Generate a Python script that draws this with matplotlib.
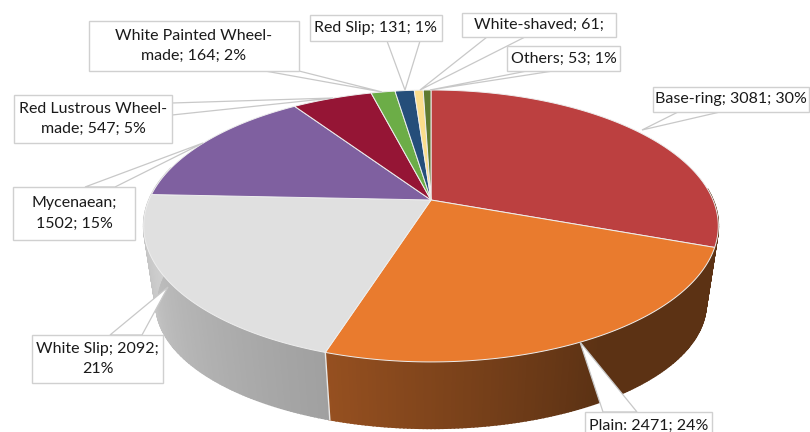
import numpy as np
import matplotlib
matplotlib.use('Agg')
import matplotlib.pyplot as plt
from matplotlib.patches import Polygon, Rectangle

plt.rcParams['font.family'] = ['Lato', 'DejaVu Sans']

# data
names = ['Base-ring', 'Plain', 'White Slip', 'Mycenaean', 'Red Lustrous Wheel-made',
         'White Painted Wheel-made', 'Red Slip', 'White-shaved', 'Others']
values = [3081, 2471, 2092, 1502, 547, 164, 131, 61, 53]
colors = ['#BC4040', '#E97B2E', '#E0E0E0', '#7F60A0', '#951535',
          '#6CAD47', '#254E7A', '#FBDD8C', '#5F7A30']

label_texts = ['Base-ring; 3081; 30%', 'Plain: 2471; 24%', 'White Slip; 2092;\n21%',
               'Mycenaean;\n1502; 15%', 'Red Lustrous Wheel-\nmade; 547; 5%',
               'White Painted Wheel-\nmade; 164; 2%', 'Red Slip; 131; 1%',
               'White-shaved; 61;', 'Others; 53; 1%']
# label box x0, y0, x1, y1 in pixels
label_boxes = [(653, 87, 809, 112), (585, 412, 712, 440), (32, 335, 163, 383),
               (13, 187, 135, 240), (14, 95, 172, 143), (89, 21, 299, 71),
               (310, 15, 442, 41), (462, 13, 616, 37), (507, 46, 620, 71)]
# leader: two points on the box edge, one on the pie
leaders = [((678, 112), (720, 112), (642, 130)), ((603, 412), (637, 412), (580, 342)),
           ((110, 335), (142, 335), (168, 287)), ((85, 187), (115, 187), (203, 143)),
           ((172, 103), (172, 115), (333, 98)), ((265, 71), (299, 71), (382, 92)),
           ((387, 41), (420, 41), (405, 90)), ((487, 37), (525, 37), (420, 90)),
           ((527, 71), (553, 71), (430, 90))]

# pie geometry (perspective ellipse), pixels
cx, cy, a, b, k = 431, 200, 282, 131, 0.191
cy2, a2, b2 = 280, 270, 120


def top_pt(t):
    w = 1 + k * np.cos(t)
    return cx + a * np.sin(t) / w, cy - b * np.cos(t) / w


def bot_pt(t):
    w = 1 + k * np.cos(t)
    return cx + a2 * np.sin(t) / w, cy2 - b2 * np.cos(t) / w


fig = plt.figure(figsize=(8.1, 4.32), dpi=100)
ax = fig.add_axes([0, 0, 1, 1])
ax.set_xlim(0, 810)
ax.set_ylim(432, 0)
ax.axis('off')

edges = np.concatenate([[0], np.cumsum(values)]) / sum(values) * 2 * np.pi

# side wall, shaded in thin strips
wall_angle = np.radians([60, 108, 150, 198, 198.01, 272, 300])
wall_r = [92, 92, 92, 150, 160, 207, 207]
wall_g = [50, 50, 50, 80, 160, 207, 207]
wall_b = [20, 20, 20, 32, 160, 207, 207]
ts = np.linspace(np.radians(85), np.radians(285), 300)
for t0, t1 in zip(ts[:-1], ts[1:]):
    tm = (t0 + t1) / 2
    col = [np.interp(tm, wall_angle, c) / 255 for c in (wall_r, wall_g, wall_b)]
    quad = [top_pt(t0), top_pt(t1), bot_pt(t1), bot_pt(t0)]
    ax.add_patch(Polygon(quad, closed=True, fc=col, ec=col, lw=1.2, zorder=1))

# seam between the white slip and plain walls
seam = edges[2]
ax.plot(*zip(top_pt(seam), bot_pt(seam)), color='#e8e8e8', lw=1, zorder=2)

# top face
for i, col in enumerate(colors):
    tt = np.linspace(edges[i], edges[i + 1], 120)
    pts = [(cx, cy)] + [top_pt(t) for t in tt]
    ax.add_patch(Polygon(pts, closed=True, fc=col, ec='#eeeeee', lw=0.7, zorder=3))

# callouts
for txt, box, lead in zip(label_texts, label_boxes, leaders):
    x0, y0, x1, y1 = box
    ax.add_patch(Polygon(lead, closed=True, fc='white', ec='#c8c8c8', lw=0.9, zorder=4))
    ax.add_patch(Rectangle((x0, y0), x1 - x0, y1 - y0, fc='white', ec='#d0d0d0', lw=1, zorder=5))
    ax.text((x0 + x1) / 2, (y0 + y1) / 2, txt, ha='center', va='center',
            fontsize=11.5, color='#1a1a1a', linespacing=1.55, zorder=6)

fig.savefig('out.png', dpi=100)
